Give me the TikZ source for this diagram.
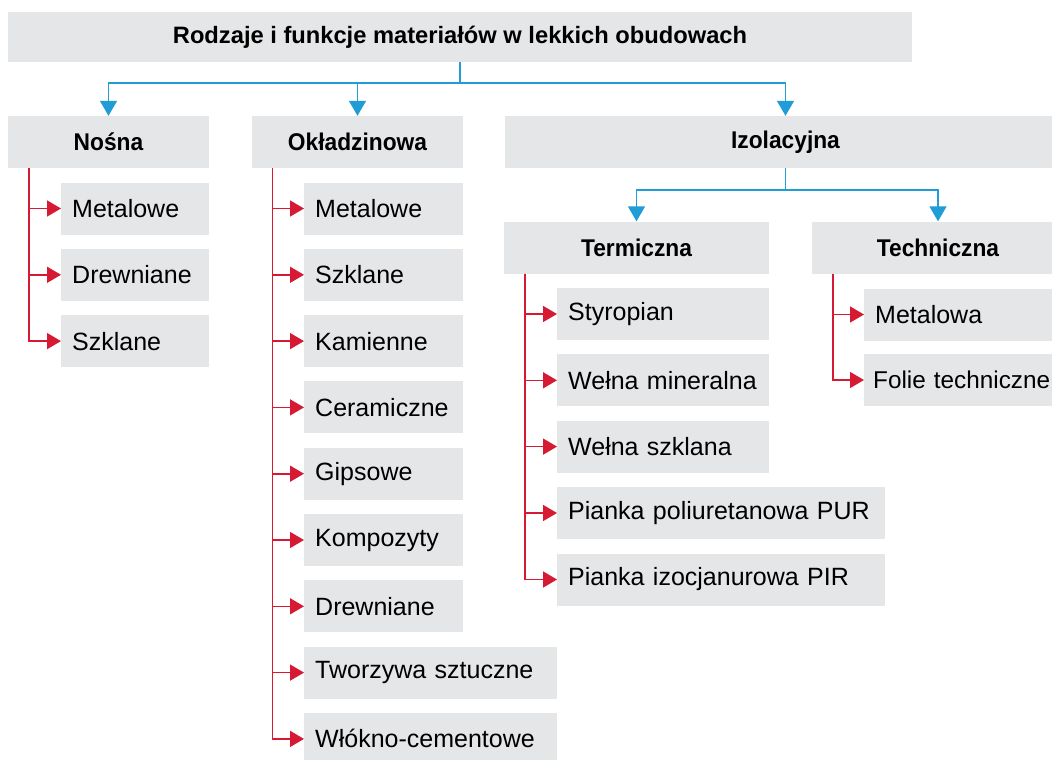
\documentclass[tikz,border=0pt]{standalone}
\usepackage{fontspec}
\setmainfont{Liberation Sans}
\newfontfamily\headfont[FakeStretch=0.94]{Liberation Sans}
\usetikzlibrary{arrows.meta,positioning}

\definecolor{boxgray}{RGB}{229,230,231}
\definecolor{linkred}{RGB}{214,26,52}
\definecolor{linkblue}{RGB}{32,156,214}

\begin{document}
\begin{tikzpicture}[
    x=1pt, y=-1pt,
    box/.style={fill=boxgray, inner sep=0pt, minimum height=52pt},
    topbox/.style={box, minimum width=904pt, minimum height=50pt, font=\bfseries\fontsize{23.7}{28}\selectfont},
    headbox/.style={box, font=\headfont\bfseries\fontsize{24.2}{28}\selectfont},
    leaf/.style={box, anchor=west, align=left, text width=#1, inner xsep=11pt, font=\fontsize{25}{30}\selectfont},
    leaf/.default=126pt,
    blueline/.style={linkblue, line width=1.6pt},
    fork/.style={blueline, -{Triangle[length=15pt, width=17pt]}},
    stemline/.style={linkred, line width=1.6pt},
    branch/.style={stemline, -{Triangle[length=14pt, width=16pt]}}
]
    \useasboundingbox (0,0) rectangle (1052,760);

    % top level
    \node[topbox] (root) at (460,37) {Rodzaje i funkcje materiałów w lekkich obudowach};

    \node[headbox, minimum width=201pt] (nosna) at (108.5,142) {Nośna};
    \node[headbox, minimum width=211pt] (okl) at (357.5,142) {Okładzinowa};
    \node[headbox, minimum width=561pt] (izo) at (785.5,142) {Izolacyjna};

    \coordinate (rootfork) at (460,83);
    \draw[blueline] (root.south) -- (rootfork);
    \draw[fork] (rootfork) -| (nosna.north);
    \draw[fork] (rootfork) -| (okl.north);
    \draw[fork] (rootfork) -| (izo.north);

    % (a) Nosna
    \node[leaf] (n1) at (61,208.5) {Metalowe};
    \node[leaf] (n2) at (61,274.8) {Drewniane};
    \node[leaf] (n3) at (61,341.1) {Szklane};

    \coordinate (nosnastem) at ([xshift=21pt]nosna.south west);
    \draw[branch] (nosnastem) |- (n1.west);
    \draw[branch] (nosnastem) |- (n2.west);
    \draw[branch] (nosnastem) |- (n3.west);

    % (b) Okladzinowa
    \node[leaf=137pt] (o1) at (304,208.5) {Metalowe};
    \node[leaf=137pt] (o2) at (304,274.8) {Szklane};
    \node[leaf=137pt] (o3) at (304,341.1) {Kamienne};
    \node[leaf=137pt] (o4) at (304,407.4) {Ceramiczne};
    \node[leaf=137pt] (o5) at (304,473.7) {Gipsowe};
    \node[leaf=137pt] (o6) at (304,540.0) {Kompozyty};
    \node[leaf=137pt] (o7) at (304,606.3) {Drewniane};
    \node[leaf=231pt] (o8) at (304,672.6) {Tworzywa sztuczne};
    \node[leaf=231pt] (o9) at (304,738.9) {Włókno-cementowe};

    \coordinate (oklstem) at ([xshift=20.5pt]okl.south west);
    \draw[branch] (oklstem) |- (o1.west);
    \draw[branch] (oklstem) |- (o2.west);
    \draw[branch] (oklstem) |- (o3.west);
    \draw[branch] (oklstem) |- (o4.west);
    \draw[branch] (oklstem) |- (o5.west);
    \draw[branch] (oklstem) |- (o6.west);
    \draw[branch] (oklstem) |- (o7.west);
    \draw[branch] (oklstem) |- (o8.west);
    \draw[branch] (oklstem) |- (o9.west);

    % (c) Izolacyjna
    \node[headbox, minimum width=265pt] (term) at (636.5,247.5) {Termiczna};
    \node[headbox, minimum width=252pt] (tech) at (938,247.5) {Techniczna};

    \coordinate (izofork) at (785.5,190);
    \draw[blueline] (izo.south) -- (izofork);
    \draw[fork] (izofork) -| (term.north);
    \draw[fork] (izofork) -| (tech.north);

    \node[leaf=190pt] (t1) at (557,314.0) {Styropian};
    \node[leaf=190pt] (t2) at (557,380.3) {Wełna\ mineralna};
    \node[leaf=190pt] (t3) at (557,446.6) {Wełna szklana};
    \node[leaf=306pt] (t4) at (557,513.0) {Pianka poliuretanowa PUR};
    \node[leaf=306pt] (t5) at (557,579.5) {Pianka izocjanurowa PIR};

    \coordinate (termstem) at ([xshift=21pt]term.south west);
    \draw[branch] (termstem) |- (t1.west);
    \draw[branch] (termstem) |- (t2.west);
    \draw[branch] (termstem) |- (t3.west);
    \draw[branch] (termstem) |- (t4.west);
    \draw[branch] (termstem) |- (t5.west);

    \node[leaf=200pt] (k1) at (864,314.5) {Metalowa};
    \node[leaf=200pt, inner xsep=9pt, font=\fontsize{24.3}{30}\selectfont] (k2) at (864,380.0) {Folie techniczne};

    \coordinate (techstem) at ([xshift=21pt]tech.south west);
    \draw[branch] (techstem) |- (k1.west);
    \draw[branch] (techstem) |- (k2.west);
\end{tikzpicture}
\end{document}
